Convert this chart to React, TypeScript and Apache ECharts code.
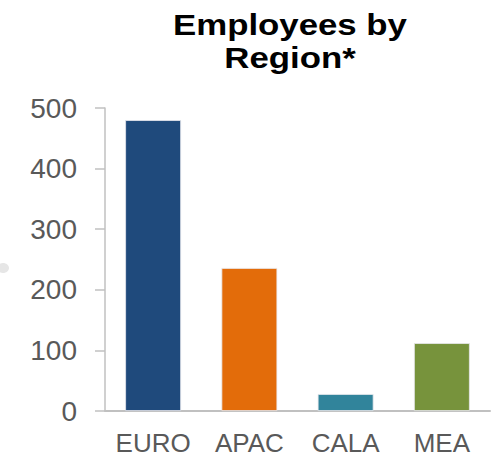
import React, { useEffect, useRef } from "react";
import * as echarts from "echarts";

const categories = ["EURO", "APAC", "CALA", "MEA"];
const values = [480, 236, 28, 112];
const barColors = ["#1F4A7C", "#E36C0A", "#31849B", "#77933C"];
const yTicks = { min: 0, max: 500, interval: 100 };
const titleLines = ["Employees by", "Region*"];

const FONT = "Liberation Sans, Arial, sans-serif";

export default function App() {
  const ref = useRef<HTMLDivElement>(null);
  useEffect(() => {
    if (!ref.current) return;
    const chart = echarts.init(ref.current, undefined, { renderer: "svg" });
    chart.setOption({
      animation: false,
      backgroundColor: "#ffffff",
      textStyle: { fontFamily: FONT },
      graphic: [
        {
          type: "ellipse",
          shape: { cx: 3, cy: 268, rx: 6, ry: 5 },
          style: { fill: "#e6e6e6" },
        },
        ...titleLines.map((t, i) => ({
          type: "text",
          x: 290,
          y: 25 + i * 33,
          scaleX: 1.2,
          style: {
            text: t,
            fontFamily: FONT,
            fontSize: 29,
            fontWeight: "bold",
            fill: "#000000",
            align: "center",
            verticalAlign: "middle",
          },
        })),
      ],
      grid: { left: 105, right: 2, top: 108, bottom: 46, containLabel: false },
      xAxis: {
        type: "category",
        data: categories,
        axisLine: { show: true, lineStyle: { color: "#c0c0c0", width: 2 } },
        axisTick: { show: false },
        axisLabel: {
          interval: 0,
          hideOverlap: false,
          color: "#595959",
          fontSize: 26,
          margin: 19,
          fontFamily: FONT,
        },
      },
      yAxis: {
        type: "value",
        min: yTicks.min,
        max: yTicks.max,
        interval: yTicks.interval,
        splitLine: { show: false },
        axisLine: { show: true, lineStyle: { color: "#c0c0c0", width: 1.5 } },
        axisTick: { show: true, length: 10, lineStyle: { color: "#c0c0c0", width: 1.5 } },
        axisLabel: {
          color: "#595959",
          fontSize: 28,
          margin: 28,
          fontFamily: FONT,
        },
      },
      series: [
        {
          type: "bar",
          barWidth: "58%",
          data: values.map((v, i) => ({
            value: v,
            itemStyle: { color: barColors[i], borderColor: "#e8e8ee", borderWidth: 0.8 },
          })),
        },
      ],
    });
    return () => chart.dispose();
  }, []);
  return (
    <div
      ref={ref}
      style={{ position: "fixed", left: 0, top: 0, width: 492, height: 457 }}
    />
  );
}
